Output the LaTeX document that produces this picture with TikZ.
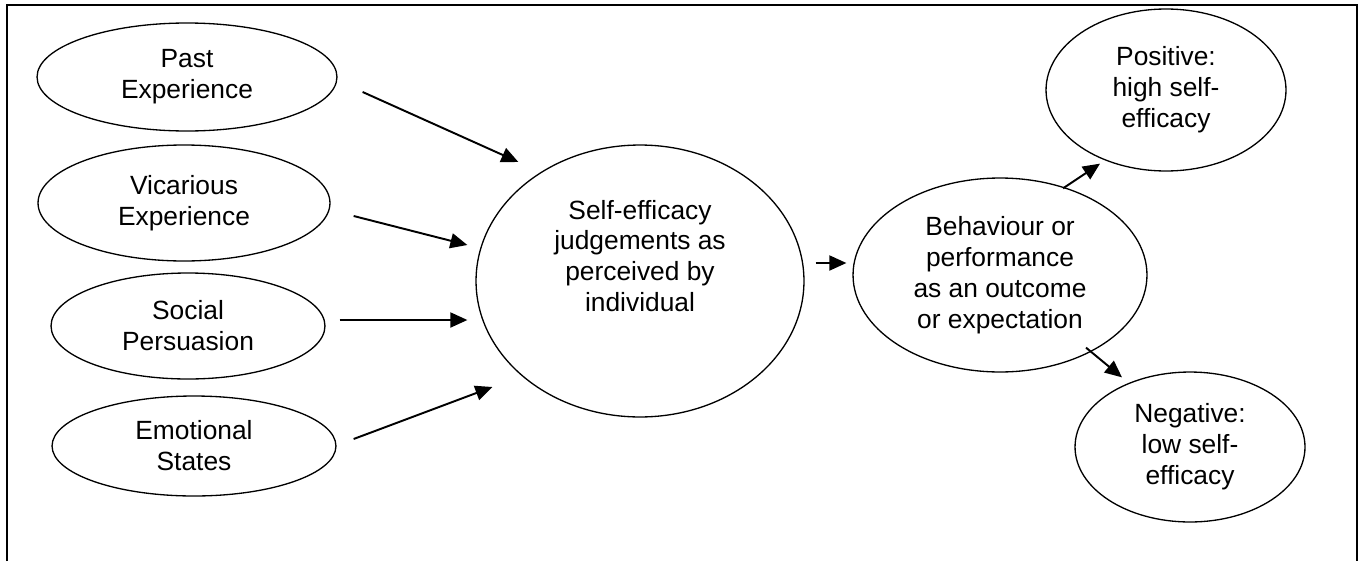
\documentclass[tikz,border=0pt]{standalone}
\usepackage{fontspec}
\setmainfont{Liberation Sans}
\usepackage{tikz}
\usetikzlibrary{shapes.geometric, arrows.meta}

\begin{document}
\begin{tikzpicture}[
    x=0.02cm, y=-0.02cm,
    ell/.style={draw, ellipse, line width=0.75pt, inner sep=0pt, align=center, font=\fontsize{15pt}{17.6pt}\selectfont},
    txt/.style={inner sep=0pt, align=center, font=\fontsize{15pt}{17.6pt}\selectfont},
    arr/.style={-{Triangle[length=0.34cm, width=0.3cm]}, line width=1.1pt},
    frame/.style={line width=1.1pt}
]
\useasboundingbox (0,0) rectangle (1364,561);

\draw[frame] (7,561) -- (7,5) -- (1357,5) -- (1357,561);

\node[ell, minimum width=6.0cm, minimum height=2.16cm] (past) at (187,77) {Past\\Experience};
\node[ell, minimum width=5.84cm, minimum height=2.32cm] (vic) at (184,203) {Vicarious\\Experience};
\node[ell, minimum width=5.48cm, minimum height=2.12cm] (soc) at (188,326) {Social\\Persuasion};
\node[ell, minimum width=5.68cm, minimum height=2.0cm] (emo) at (194,446) {Emotional\\States};
\node[ell, minimum width=6.56cm, minimum height=5.44cm] (judge) at (640,281) {};
\node[txt] (judgetext) at (640,256) {Self-efficacy\\judgements as\\perceived by\\individual};
\node[ell, minimum width=5.88cm, minimum height=3.88cm] (beh) at (1000,275) {Behaviour or\\performance\\as an outcome\\or expectation};
\node[ell, minimum width=4.8cm, minimum height=3.24cm] (pos) at (1166,90) {Positive:\\high self-\\efficacy};
\node[ell, minimum width=4.6cm, minimum height=3.0cm] (neg) at (1190,447) {Negative:\\low self-\\efficacy};

\draw[arr] ([shift={(25,15)}]past.east) -- ([shift={(43,-119)}]judge.west);
\draw[arr] ([shift={(23,13)}]vic.east) -- ([shift={(-8,-36)}]judge.west);
\draw[arr] ([shift={(14,-6)}]soc.east) -- ([shift={(-8,39)}]judge.west);
\draw[arr] ([shift={(17,-7)}]emo.east) -- ([shift={(17,106)}]judge.west);
\draw[arr] ([shift={(11,-18)}]judge.east) -- ([shift={(-6,-12)}]beh.west);
\draw[arr] ([shift={(63,11)}]beh.north) -- ([shift={(-66,-8)}]pos.south);
\draw[arr] ([shift={(86,-25)}]beh.south) -- ([shift={(-68,6)}]neg.north);

\end{tikzpicture}
\end{document}
